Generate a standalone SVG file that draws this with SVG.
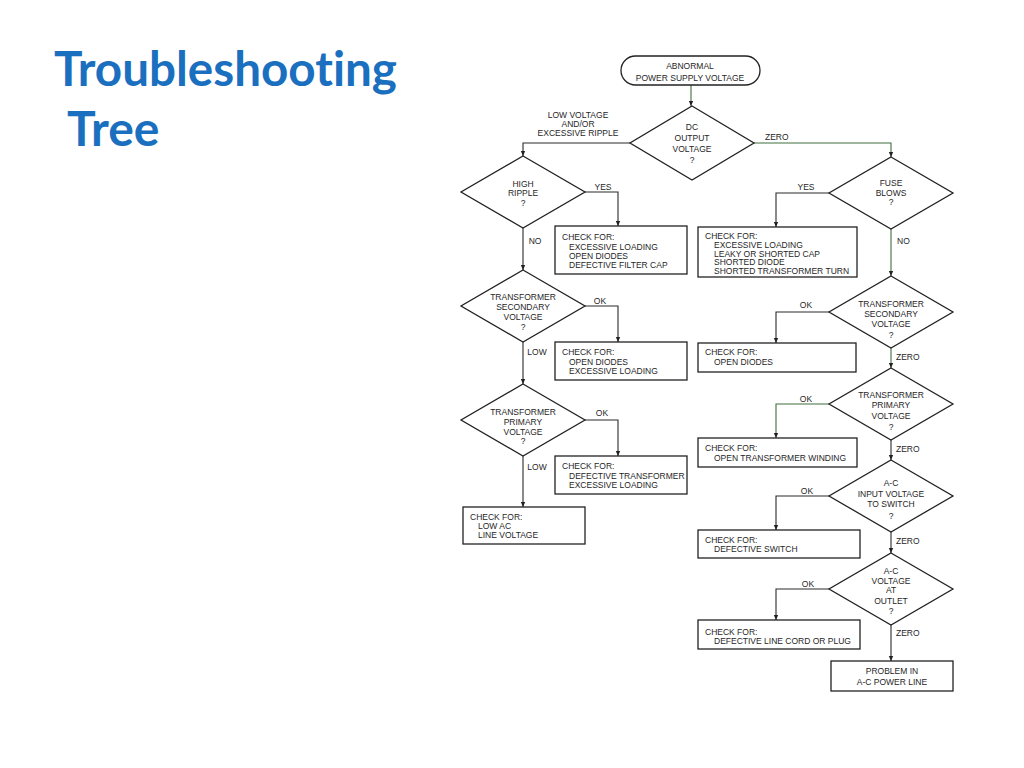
<svg xmlns="http://www.w3.org/2000/svg" width="1024" height="768" viewBox="0 0 1024 768">
<defs>
<marker id="ah" markerUnits="userSpaceOnUse" markerWidth="6" markerHeight="6" refX="5" refY="3" orient="auto">
<path d="M0,0.8 L5,3 L0,5.2 Z" fill="#222"/>
</marker>
<style>
.title{font-family:Lato,"Liberation Sans",sans-serif;font-weight:bold;font-size:48px;fill:#1b6fbf;font-variant-ligatures:none}
.d,.b,.s{fill:#fff;stroke:#222;stroke-width:1.3}
.t{font-family:"Liberation Sans",Arial,sans-serif;font-size:8.5px;fill:#262626}
.c{text-anchor:middle}
.ln{fill:none;stroke:#2a2a2a;stroke-width:1.1;marker-end:url(#ah)}
.g{stroke:#3d6e3d}
</style>
</defs>
<rect width="1024" height="768" fill="#fff"/>
<text class="title" x="54" y="86" textLength="343" lengthAdjust="spacingAndGlyphs">Troubleshooting</text>
<text class="title" x="67" y="146">Tree</text>

<g id="connectors">
<path class="ln g" d="M691 85 V106"/>
<path class="ln" d="M630 143 H523 V156"/>
<path class="ln g" d="M754 143 H891 V157"/>
<path class="ln" d="M585 192 H618 V226"/>
<path class="ln" d="M523 228 V270"/>
<path class="ln" d="M585 306 H618 V342"/>
<path class="ln" d="M523 342 V384"/>
<path class="ln" d="M585 420 H618 V456"/>
<path class="ln" d="M523 456 V507"/>
<path class="ln" d="M829 193 H776 V227"/>
<path class="ln g" d="M891 229 V276"/>
<path class="ln" d="M829 312 H776 V343"/>
<path class="ln g" d="M891 348 V368"/>
<path class="ln g" d="M829 404 H776 V438"/>
<path class="ln" d="M891 440 V460"/>
<path class="ln" d="M829 496 H776 V530"/>
<path class="ln" d="M891 532 V553"/>
<path class="ln" d="M829 589 H776 V620"/>
<path class="ln" d="M891 625 V661"/>
</g>

<g id="labels" class="t">
<text class="c" x="578" y="118">LOW VOLTAGE</text>
<text class="c" x="578" y="126.5">AND/OR</text>
<text class="c" x="578" y="135.5">EXCESSIVE RIPPLE</text>
<text x="765" y="140">ZERO</text>
<text class="c" x="603" y="190">YES</text>
<text class="c" x="535" y="244">NO</text>
<text class="c" x="600" y="304">OK</text>
<text class="c" x="537" y="355">LOW</text>
<text class="c" x="602" y="416">OK</text>
<text class="c" x="537" y="470">LOW</text>
<text class="c" x="806" y="190">YES</text>
<text x="897" y="244">NO</text>
<text class="c" x="806" y="308">OK</text>
<text x="896" y="360">ZERO</text>
<text class="c" x="806" y="402">OK</text>
<text x="896" y="452">ZERO</text>
<text class="c" x="807" y="494">OK</text>
<text x="896" y="544">ZERO</text>
<text class="c" x="808" y="587">OK</text>
<text x="896" y="636">ZERO</text>
</g>

<g id="start">
<rect class="s" x="621" y="56" width="139" height="29" rx="14.5"/>
<text class="t c" x="690" y="69">ABNORMAL</text>
<text class="t c" x="690" y="81">POWER SUPPLY VOLTAGE</text>
</g>

<g id="dc-output">
<polygon class="d" points="692,106 754,143 692,180 630,143"/>
<text class="t c" x="692" y="130">DC</text>
<text class="t c" x="692" y="141">OUTPUT</text>
<text class="t c" x="692" y="152">VOLTAGE</text>
<text class="t c" x="692" y="163">?</text>
</g>

<g id="high-ripple">
<polygon class="d" points="523,156 585,192 523,228 461,192"/>
<text class="t c" x="523" y="187">HIGH</text>
<text class="t c" x="523" y="196">RIPPLE</text>
<text class="t c" x="523" y="206">?</text>
</g>

<g id="check-ripple">
<rect class="b" x="555" y="226" width="132" height="48"/>
<text class="t" x="562" y="240">CHECK FOR:</text>
<text class="t" x="569" y="249.5">EXCESSIVE LOADING</text>
<text class="t" x="569" y="259">OPEN DIODES</text>
<text class="t" x="569" y="268">DEFECTIVE FILTER CAP</text>
</g>

<g id="left-secondary">
<polygon class="d" points="523,270 585,306 523,342 461,306"/>
<text class="t c" x="523" y="300">TRANSFORMER</text>
<text class="t c" x="523" y="310">SECONDARY</text>
<text class="t c" x="523" y="320">VOLTAGE</text>
<text class="t c" x="523" y="330">?</text>
</g>

<g id="check-secondary-ok">
<rect class="b" x="555" y="342" width="132" height="38"/>
<text class="t" x="562" y="355">CHECK FOR:</text>
<text class="t" x="569" y="365">OPEN DIODES</text>
<text class="t" x="569" y="374">EXCESSIVE LOADING</text>
</g>

<g id="left-primary">
<polygon class="d" points="523,384 585,420 523,456 461,420"/>
<text class="t c" x="523" y="415">TRANSFORMER</text>
<text class="t c" x="523" y="425">PRIMARY</text>
<text class="t c" x="523" y="435">VOLTAGE</text>
<text class="t c" x="523" y="444">?</text>
</g>

<g id="check-primary-ok">
<rect class="b" x="555" y="456" width="132" height="38"/>
<text class="t" x="562" y="469">CHECK FOR:</text>
<text class="t" x="569" y="479">DEFECTIVE TRANSFORMER</text>
<text class="t" x="569" y="488">EXCESSIVE LOADING</text>
</g>

<g id="check-low-ac">
<rect class="b" x="463" y="507" width="122" height="37"/>
<text class="t" x="470" y="520">CHECK FOR:</text>
<text class="t" x="478" y="529">LOW AC</text>
<text class="t" x="478" y="538">LINE VOLTAGE</text>
</g>

<g id="fuse-blows">
<polygon class="d" points="891,157 953,193 891,229 829,193"/>
<text class="t c" x="891" y="186">FUSE</text>
<text class="t c" x="891" y="196">BLOWS</text>
<text class="t c" x="891" y="205">?</text>
</g>

<g id="check-fuse">
<rect class="b" x="698" y="227" width="159" height="50"/>
<text class="t" x="705" y="239">CHECK FOR:</text>
<text class="t" x="714" y="248">EXCESSIVE LOADING</text>
<text class="t" x="714" y="256.5">LEAKY OR SHORTED CAP</text>
<text class="t" x="714" y="265">SHORTED DIODE</text>
<text class="t" x="714" y="273.5">SHORTED TRANSFORMER TURN</text>
</g>

<g id="right-secondary">
<polygon class="d" points="891,276 953,312 891,348 829,312"/>
<text class="t c" x="891" y="307">TRANSFORMER</text>
<text class="t c" x="891" y="317">SECONDARY</text>
<text class="t c" x="891" y="327">VOLTAGE</text>
<text class="t c" x="891" y="338">?</text>
</g>

<g id="check-open-diodes">
<rect class="b" x="698" y="343" width="158" height="29"/>
<text class="t" x="705" y="355">CHECK FOR:</text>
<text class="t" x="714" y="365">OPEN DIODES</text>
</g>

<g id="right-primary">
<polygon class="d" points="891,368 953,404 891,440 829,404"/>
<text class="t c" x="891" y="398">TRANSFORMER</text>
<text class="t c" x="891" y="408">PRIMARY</text>
<text class="t c" x="891" y="419">VOLTAGE</text>
<text class="t c" x="891" y="430">?</text>
</g>

<g id="check-winding">
<rect class="b" x="698" y="438" width="159" height="29"/>
<text class="t" x="705" y="451">CHECK FOR:</text>
<text class="t" x="714" y="461">OPEN TRANSFORMER WINDING</text>
</g>

<g id="ac-input">
<polygon class="d" points="891,460 953,496 891,532 829,496"/>
<text class="t c" x="891" y="486">A-C</text>
<text class="t c" x="891" y="497">INPUT VOLTAGE</text>
<text class="t c" x="891" y="507">TO SWITCH</text>
<text class="t c" x="891" y="519">?</text>
</g>

<g id="check-switch">
<rect class="b" x="698" y="530" width="162" height="28"/>
<text class="t" x="705" y="543">CHECK FOR:</text>
<text class="t" x="714" y="552">DEFECTIVE SWITCH</text>
</g>

<g id="ac-outlet">
<polygon class="d" points="891,553 953,589 891,625 829,589"/>
<text class="t c" x="891" y="574">A-C</text>
<text class="t c" x="891" y="584">VOLTAGE</text>
<text class="t c" x="891" y="593">AT</text>
<text class="t c" x="891" y="604">OUTLET</text>
<text class="t c" x="891" y="614">?</text>
</g>

<g id="check-cord">
<rect class="b" x="698" y="620" width="162" height="29"/>
<text class="t" x="705" y="635">CHECK FOR:</text>
<text class="t" x="714" y="644">DEFECTIVE LINE CORD OR PLUG</text>
</g>

<g id="power-line">
<rect class="b" x="831" y="661" width="122" height="30"/>
<text class="t c" x="892" y="674">PROBLEM IN</text>
<text class="t c" x="892" y="685">A-C POWER LINE</text>
</g>
</svg>
